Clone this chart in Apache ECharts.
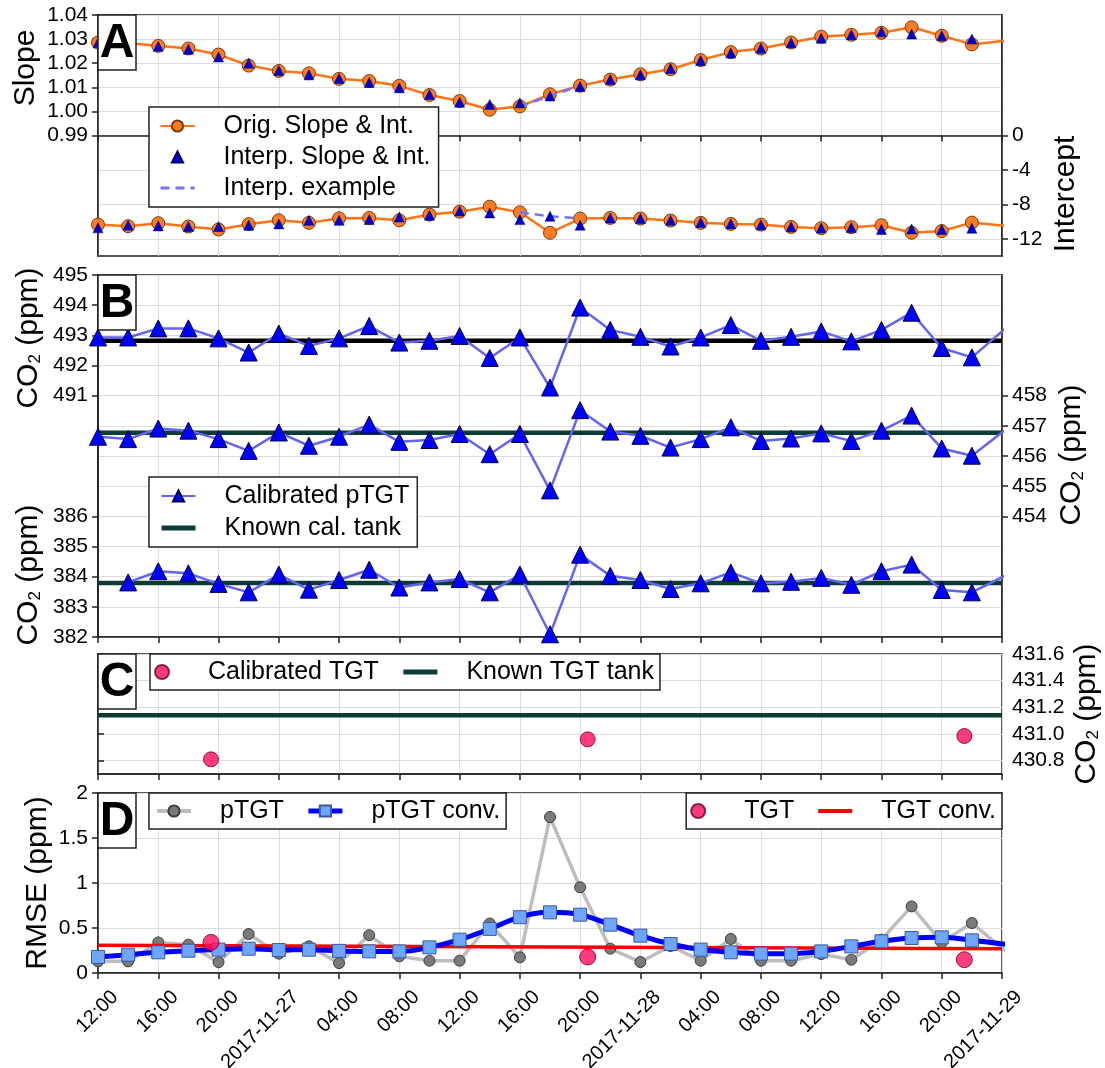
<!DOCTYPE html>
<html><head><meta charset="utf-8">
<script src="https://cdn.jsdelivr.net/npm/echarts@6/dist/echarts.min.js"></script>
<style>html,body{margin:0;padding:0;background:#fff}#c{width:1105px;height:1068px}</style>
</head><body><div id="c"></div>
<script>
// ---------- DATA (hours since 2017-11-26 12:00) ----------
const tickLabels = ['12:00','16:00','20:00','2017-11-27','04:00','08:00','12:00','16:00','20:00','2017-11-28','04:00','08:00','12:00','16:00','20:00','2017-11-29'];
const hours = [0,2,4,6,8,10,12,14,16,18,20,22,24,26,28,30,32,34,36,38,40,42,44,46,48,50,52,54,56,58,62];
const hoursInterp = [0,2,4,6,8,10,12,14,16,18,20,22,24,26,28,30,32,34,36,38,40,42,44,46,48,50,52,54,56,58];
const hoursLow = [2,4,6,8,10,12,14,16,18,20,22,24,26,28,30,32,34,36,38,40,42,44,46,48,50,52,54,56,58,62];

// Panel A
const slopeOrig = [1.0286,1.0283,1.0272,1.0261,1.0236,1.0190,1.0168,1.0158,1.0135,1.0126,1.0106,1.0068,1.0043,1.0007,1.0021,1.0071,1.0107,1.0132,1.0154,1.0175,1.0213,1.0246,1.0261,1.0286,1.0310,1.0318,1.0326,1.0349,1.0314,1.0278,1.0306];
const slopeInterp = [1.0285,1.0283,1.0270,1.0258,1.0226,1.0200,1.0170,1.0152,1.0137,1.0120,1.0098,1.0070,1.0038,1.0029,1.0035,1.0064,1.0103,1.0132,1.0152,1.0178,1.0211,1.0242,1.0262,1.0285,1.0304,1.0318,1.0330,1.0321,1.0314,1.0300];
const interceptOrig = [-10.35,-10.54,-10.19,-10.58,-10.92,-10.30,-9.85,-10.15,-9.62,-9.58,-9.85,-9.19,-8.85,-8.27,-8.92,-11.30,-9.65,-9.58,-9.65,-9.88,-10.15,-10.27,-10.35,-10.62,-10.77,-10.65,-10.42,-11.30,-11.10,-10.12,-10.80];
const interceptInterp = [-10.73,-10.42,-10.50,-10.58,-10.58,-10.42,-10.27,-9.85,-9.85,-9.77,-9.46,-9.27,-8.77,-9.00,-9.77,-9.38,-10.42,-9.58,-9.65,-9.85,-10.10,-10.25,-10.38,-10.60,-10.75,-10.70,-10.92,-10.85,-10.92,-10.77];
const exampleHours = [28,30,32];
const exampleSlope = [1.0021,1.0064,1.0107];
const exampleIntercept = [-8.92,-9.38,-9.65];

// Panel B
const pTgtHigh = [492.93,492.93,493.23,493.23,492.90,492.43,493.06,492.65,492.90,493.31,492.76,492.82,492.98,492.25,492.93,491.27,493.92,493.18,492.95,492.63,492.93,493.34,492.82,492.95,493.13,492.80,493.18,493.75,492.58,492.27,494.00];
const pTgtMid = [456.64,456.56,456.91,456.84,456.56,456.17,456.78,456.34,456.64,457.04,456.47,456.53,456.73,456.06,456.73,454.86,457.52,456.81,456.67,456.28,456.56,456.95,456.50,456.58,456.75,456.50,456.84,457.34,456.25,456.01,457.55];
const pTgtLow = [383.81,384.18,384.11,383.76,383.48,384.07,383.57,383.89,384.23,383.64,383.81,383.92,383.48,384.07,382.09,384.73,384.03,383.89,383.59,383.78,384.14,383.78,383.83,383.96,383.73,384.18,384.40,383.56,383.48,384.48];
const tankHours = [0,60];
const tankHigh = 492.82, tankMid = 456.77, tankLow = 383.79;

// Panel C
const tgtHours = [7.5,32.5,57.5];
const tgtCal = [430.81,430.96,430.985];
const tgtKnown = 431.14;

// Panel D
const rmsePTgt = [0.13,0.13,0.34,0.315,0.12,0.433,0.215,0.296,0.11,0.42,0.185,0.137,0.137,0.55,0.174,1.733,0.952,0.27,0.122,0.30,0.137,0.378,0.137,0.137,0.21,0.148,0.37,0.74,0.34,0.555,0.0];
const rmsePTgtConv = [0.178,0.204,0.23,0.248,0.26,0.27,0.255,0.259,0.246,0.24,0.24,0.285,0.37,0.49,0.62,0.674,0.648,0.537,0.415,0.322,0.26,0.23,0.215,0.215,0.24,0.296,0.352,0.389,0.396,0.363,0.28];
const rmseTgt = [0.34,0.178,0.148];
const tgtConvHours = [0,30,60];
const rmseTgtConv = [0.307,0.288,0.27];

const slopeTicks = [0.99,1.00,1.01,1.02,1.03,1.04];
const interceptTicks = [-12,-8,-4,0];
const highTicks = [491,492,493,494,495];
const midTicks = [454,455,456,457,458];
const lowTicks = [382,383,384,385,386];
const cTicks = [430.8,431.0,431.2,431.4,431.6];

// ---------- CHART ----------
const FONT = '"Liberation Sans", Arial, Helvetica, sans-serif';
const zip = (xs, ys) => ys.map((y, i) => [xs[i], y]);
const flat = (xs, v) => xs.map(x => [x, v]);
const FRAME = '#222';
const GRIDC = '#dcdcdc';
const GREEN = '#0c3b35';

const gridTops = [15, 275, 654, 793];
const gridHs = [241, 362, 120, 180];
const grids = gridTops.map((t, i) => ({left: 98, right: 103, top: t, height: gridHs[i], show: true,
  borderColor: FRAME, borderWidth: 1.5, backgroundColor: 'transparent', containLabel: false, outerBoundsMode: 'none'}));

function xAx(gi, showLabels) {
  return {type: 'value', gridIndex: gi, min: 0, max: 60, interval: 4,
    axisLine: {show: true, lineStyle: {color: FRAME, width: 1.5}},
    axisTick: {show: true, length: 6, lineStyle: {color: FRAME, width: 1.5}},
    axisLabel: {show: showLabels, rotate: 45, fontSize: 20, color: '#000', fontFamily: FONT, margin: 4,
      verticalAlign: 'top', showMinLabel: true, showMaxLabel: true, hideOverlap: false,
      formatter: v => '{e| }\n{t|' + tickLabels[Math.round(v / 4)] + '}',
      rich: {e: {fontSize: 4, lineHeight: 14}, t: {fontSize: 20, lineHeight: 20, fontFamily: FONT, color: '#000'}}},
    splitLine: {show: true, lineStyle: {color: GRIDC, width: 1}}};
}
function yAx(gi, pos, min, max, ticks, fmt, split) {
  return {type: 'value', gridIndex: gi, position: pos, min: min, max: max,
    axisLine: {show: true, lineStyle: {color: FRAME, width: 1.5}},
    axisTick: {show: true, length: 6, customValues: ticks, lineStyle: {color: FRAME, width: 1.5}},
    axisLabel: {show: true, customValues: ticks, fontSize: 21, color: '#000', fontFamily: FONT, margin: 10,
      formatter: fmt},
    splitLine: {show: split, lineStyle: {color: GRIDC, width: 1}}};
}

const yAxes = [
  yAx(0, 'left', 0.94, 1.04, slopeTicks, v => v.toFixed(2), true),
  yAx(0, 'right', -14, 14, interceptTicks, v => String(v), true),
  yAx(1, 'left', 483, 495, highTicks, v => String(v), false),
  yAx(1, 'right', 450, 462, midTicks, v => String(v), false),
  yAx(1, 'left', 382, 394, lowTicks, v => String(v), false),
  {type: 'value', gridIndex: 1, position: 'left', min: 0, max: 12, interval: 1,
    axisLine: {show: false}, axisTick: {show: false}, axisLabel: {show: false},
    splitLine: {show: true, lineStyle: {color: GRIDC, width: 1}}},
  yAx(2, 'right', 430.7, 431.6, cTicks, v => v.toFixed(1), true),
  {type: 'value', gridIndex: 3, position: 'left', min: 0, max: 2, interval: 0.5,
    axisLine: {show: true, lineStyle: {color: FRAME, width: 1.5}},
    axisTick: {show: true, length: 6, lineStyle: {color: FRAME, width: 1.5}},
    axisLabel: {fontSize: 21, color: '#000', fontFamily: FONT, margin: 10},
    splitLine: {show: true, lineStyle: {color: GRIDC, width: 1}}}
];

const orangeLine = {color: '#ff7315', width: 2.5};
const orangeItem = {color: '#ff7b22', borderColor: '#7a3b10', borderWidth: 1};
const triA = {color: '#0000cc', borderColor: '#000066', borderWidth: 0.5};
const triB = {color: '#0000ff', borderColor: '#000044', borderWidth: 1};
const pinkItem = {color: '#ff0a5f', borderColor: '#6a0025', borderWidth: 1};
const noLine = {opacity: 0, width: 0};

const series = [
  // Panel A
  {name: 'Orig. Slope & Int.', type: 'line', xAxisIndex: 0, yAxisIndex: 0, data: zip(hours, slopeOrig),
    symbol: 'circle', symbolSize: 13, lineStyle: orangeLine, itemStyle: orangeItem, clip: true, z: 2},
  {name: 'Orig. Slope & Int.', type: 'line', xAxisIndex: 0, yAxisIndex: 1, data: zip(hours, interceptOrig),
    symbol: 'circle', symbolSize: 13, lineStyle: orangeLine, itemStyle: orangeItem, clip: true, z: 2},
  {name: 'Interp. example', type: 'line', xAxisIndex: 0, yAxisIndex: 0, data: zip(exampleHours, exampleSlope),
    symbol: 'none', lineStyle: {color: '#7373ff', width: 2.5, type: [9, 6]}, itemStyle: {color: '#7373ff'}, z: 3},
  {name: 'Interp. example', type: 'line', xAxisIndex: 0, yAxisIndex: 1, data: zip(exampleHours, exampleIntercept),
    symbol: 'none', lineStyle: {color: '#7373ff', width: 2.5, type: [9, 6]}, itemStyle: {color: '#7373ff'}, z: 3},
  {name: 'Interp. Slope & Int.', type: 'line', xAxisIndex: 0, yAxisIndex: 0, data: zip(hoursInterp, slopeInterp),
    symbol: 'triangle', symbolSize: 10, lineStyle: noLine, itemStyle: triA, z: 4},
  {name: 'Interp. Slope & Int.', type: 'line', xAxisIndex: 0, yAxisIndex: 1, data: zip(hoursInterp, interceptInterp),
    symbol: 'triangle', symbolSize: 10, lineStyle: noLine, itemStyle: triA, z: 4},
  // Panel B
  {name: 'Known high tank', type: 'line', xAxisIndex: 1, yAxisIndex: 2, data: flat(tankHours, tankHigh),
    symbol: 'none', lineStyle: {color: '#000', width: 4.5}, z: 2},
  {name: 'Known cal. tank', type: 'line', xAxisIndex: 1, yAxisIndex: 3, data: flat(tankHours, tankMid),
    symbol: 'none', lineStyle: {color: GREEN, width: 4.5}, itemStyle: {color: GREEN}, z: 2},
  {name: 'Known cal. tank', type: 'line', xAxisIndex: 1, yAxisIndex: 4, data: flat(tankHours, tankLow),
    symbol: 'none', lineStyle: {color: GREEN, width: 4.5}, itemStyle: {color: GREEN}, z: 2},
  {name: 'Calibrated pTGT', type: 'line', xAxisIndex: 1, yAxisIndex: 2, data: zip(hours, pTgtHigh),
    symbol: 'triangle', symbolSize: 17, lineStyle: {color: '#6464f0', width: 2.5}, itemStyle: triB, clip: true, z: 3},
  {name: 'Calibrated pTGT', type: 'line', xAxisIndex: 1, yAxisIndex: 3, data: zip(hours, pTgtMid),
    symbol: 'triangle', symbolSize: 17, lineStyle: {color: '#6464f0', width: 2.5}, itemStyle: triB, clip: true, z: 3},
  {name: 'Calibrated pTGT', type: 'line', xAxisIndex: 1, yAxisIndex: 4, data: zip(hoursLow, pTgtLow),
    symbol: 'triangle', symbolSize: 17, lineStyle: {color: '#6464f0', width: 2.5}, itemStyle: triB, clip: true, z: 3},
  // Panel C
  {name: 'Known TGT tank', type: 'line', xAxisIndex: 2, yAxisIndex: 6, data: flat(tankHours, tgtKnown),
    symbol: 'none', lineStyle: {color: GREEN, width: 4.5}, itemStyle: {color: GREEN}, z: 2},
  {name: 'Calibrated TGT', type: 'scatter', xAxisIndex: 2, yAxisIndex: 6, data: zip(tgtHours, tgtCal),
    symbol: 'circle', symbolSize: 15, itemStyle: pinkItem, z: 3},
  // Panel D
  {name: 'pTGT', type: 'line', xAxisIndex: 3, yAxisIndex: 7, data: zip(hours, rmsePTgt),
    symbol: 'circle', symbolSize: 11, lineStyle: {color: '#bdbdbd', width: 3.5},
    itemStyle: {color: '#7a7a7a', borderColor: '#3d3d3d', borderWidth: 1}, clip: true, z: 2},
  {name: 'TGT conv.', type: 'line', xAxisIndex: 3, yAxisIndex: 7, data: zip(tgtConvHours, rmseTgtConv),
    symbol: 'none', lineStyle: {color: '#ff0000', width: 3.5}, itemStyle: {color: '#ff0000'}, z: 3},
  {name: 'pTGT conv.', type: 'line', xAxisIndex: 3, yAxisIndex: 7, data: zip(hours, rmsePTgtConv),
    smooth: 0.4, symbol: 'rect', symbolSize: 13, lineStyle: {color: '#0000ff', width: 5},
    itemStyle: {color: '#6ea6ff', borderColor: '#3a5a9a', borderWidth: 1}, clip: true, z: 4},
  {name: 'TGT', type: 'scatter', xAxisIndex: 3, yAxisIndex: 7, data: zip(tgtHours, rmseTgt),
    symbol: 'circle', symbolSize: 16, itemStyle: pinkItem, z: 5}
];

const hideDot = {opacity: 0};
const legendBase = {selectedMode: false, backgroundColor: '#fff', borderColor: FRAME, borderWidth: 1.5, borderRadius: 0,
  itemWidth: 34, itemHeight: 14, z: 50,
  textStyle: {fontSize: 25, fontFamily: FONT, color: '#000', padding: [0, 0, 0, 24], lineHeight: 26}};
const legends = [
  Object.assign({}, legendBase, {data: ['Orig. Slope & Int.', 'Interp. Slope & Int.',
      {name: 'Interp. example', itemStyle: hideDot, lineStyle: {width: 3}}],
    orient: 'vertical', left: 149, top: 107, padding: [6, 8, 6, 10], itemGap: 5}),
  Object.assign({}, legendBase, {data: ['Calibrated pTGT', {name: 'Known cal. tank', itemStyle: hideDot, lineStyle: {width: 5}}],
    orient: 'vertical', left: 149, top: 477, padding: [6, 8, 6, 10], itemGap: 6}),
  Object.assign({}, legendBase, {data: ['Calibrated TGT', {name: 'Known TGT tank', itemStyle: hideDot, lineStyle: {width: 5}}],
    orient: 'horizontal', left: 150, top: 654, padding: [5, 6, 5, 4], itemGap: 22}),
  Object.assign({}, legendBase, {data: [{name: 'pTGT', lineStyle: {width: 4}}, {name: 'pTGT conv.', lineStyle: {width: 5}}],
    orient: 'horizontal', left: 149, top: 793, padding: [5, 6, 5, 6], itemGap: 22}),
  Object.assign({}, legendBase, {data: ['TGT', {name: 'TGT conv.', itemStyle: hideDot, lineStyle: {width: 4}}],
    orient: 'horizontal', right: 103, top: 793, padding: [5, 6, 5, 4], itemGap: 22})
];

const letters = ['A', 'B', 'C', 'D'];
const graphics = [];
letters.forEach((t, i) => {
  graphics.push({type: 'rect', x: 98, y: gridTops[i], z: 100,
    shape: {x: 0, y: 0, width: 38, height: 55}, style: {fill: '#fff', stroke: FRAME, lineWidth: 1.5}});
  graphics.push({type: 'text', x: 117, y: gridTops[i] + 29, z: 101,
    style: {text: t, fontSize: 48, fontWeight: 'bold', fontFamily: FONT, fill: '#000', align: 'center', verticalAlign: 'middle'}});
});
const sub = {sub: {fontSize: 17, fontFamily: FONT, verticalAlign: 'bottom', fill: '#000'}};
function vTitle(text, x, y) {
  return {type: 'text', x: x, y: y, rotation: Math.PI / 2, z: 100,
    style: {text: text, fontSize: 30, fontFamily: FONT, fill: '#000', align: 'center', verticalAlign: 'middle', rich: sub}};
}
graphics.push(
  vTitle('Slope', 26, 68),
  vTitle('Intercept', 1066, 194),
  vTitle('CO{sub|2} (ppm)', 29, 338),
  vTitle('CO{sub|2} (ppm)', 1072, 455),
  vTitle('CO{sub|2} (ppm)', 29, 575),
  vTitle('CO{sub|2} (ppm)', 1087, 714),
  vTitle('RMSE (ppm)', 38, 883)
);

const chart = echarts.init(document.getElementById('c'), null, {renderer: 'canvas'});
chart.setOption({
  animation: false,
  backgroundColor: '#fff',
  textStyle: {fontFamily: FONT},
  grid: grids,
  xAxis: [xAx(0, false), xAx(1, false), xAx(2, false), xAx(3, true)],
  yAxis: yAxes,
  legend: legends,
  series: series,
  graphic: graphics
});
</script>
</body></html>
